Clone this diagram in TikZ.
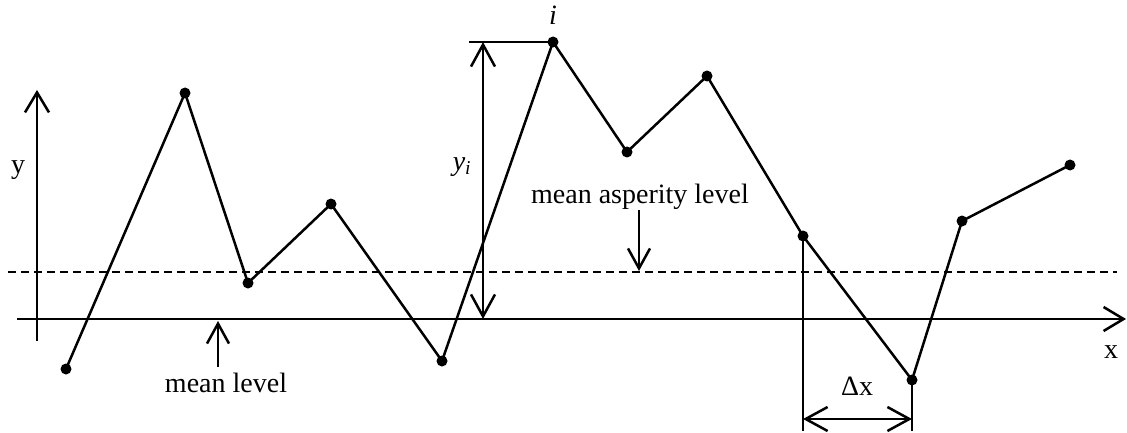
\documentclass[tikz,border=0pt]{standalone}
\usepackage{fontspec}
\setmainfont{Liberation Serif}
\usetikzlibrary{arrows.meta}
\tikzset{
  dot/.style={
    circle,
    fill=black,
    inner sep=0pt,
    minimum size=11pt
  },
  profile/.style={line width=2.5pt, line join=round},
  axis/.style={line width=2.5pt, -{Straight Barb[length=20pt,width=24pt,line width=2.5pt]}},
  dimarrow/.style={line width=2.5pt, {Straight Barb[length=22pt,width=24pt,line width=2.5pt]}-{Straight Barb[length=22pt,width=24pt,line width=2.5pt]}},
  pointer/.style={line width=2.5pt, -{Straight Barb[length=20pt,width=22pt,line width=2.5pt]}},
  meanline/.style={line width=2.5pt, dash pattern=on 8pt off 5pt},
  note/.style={font=\fontsize{28}{30}\selectfont, inner sep=0pt}
}

\begin{document}
\begin{tikzpicture}[x=1pt,y=-1pt]
\useasboundingbox (0,0) rectangle (1127,433);
% profile points
\node[dot] (p1) at (66,369) {};
\node[dot] (p2) at (185,93) {};
\node[dot] (p3) at (248,283) {};
\node[dot] (p4) at (331,204) {};
\node[dot] (p5) at (442,361) {};
\node[dot] (p6) at (553,42) {};
\node[dot] (p7) at (627,152) {};
\node[dot] (p8) at (707,76) {};
\node[dot] (p9) at (803,236) {};
\node[dot] (p10) at (912,380) {};
\node[dot] (p11) at (962,221) {};
\node[dot] (p12) at (1070,165) {};

% axes and levels
\coordinate (xstart) at (17,319);
\coordinate (xend) at (1126,319);
\coordinate (ystart) at (37,341);
\coordinate (yend) at (37,90);
\coordinate (dstart) at (8,272);
\coordinate (dend) at (1117,272);
\draw[axis] (xstart) -- (xend);
\draw[axis] (ystart) -- (yend);
\draw[meanline] (dstart) -- (dend);

\draw[profile] (p1.center) -- (p2.center) -- (p3.center) -- (p4.center) -- (p5.center) -- (p6.center)
  -- (p7.center) -- (p8.center) -- (p9.center) -- (p10.center) -- (p11.center) -- (p12.center);

% height of point i
\coordinate (ytop) at (483,42);
\coordinate (ybot) at (483,319);
\coordinate (yleft) at (469,42);
\draw[line width=2.5pt] (yleft) -- (p6.center);
\draw[dimarrow] (ytop) -- (ybot);

% sampling interval
\coordinate (dxa) at (803,431);
\coordinate (dxb) at (912,431);
\coordinate (dxl) at (803,419);
\coordinate (dxr) at (912,419);
\draw[line width=2.5pt] (p9.center) -- (dxa);
\draw[line width=2.5pt] (p10.center) -- (dxb);
\draw[dimarrow] (dxl) -- (dxr);

% labels
\node[note] (ylab) at (18,170) {y};
\node[note] (xlab) at (1111,352) {x};
\node[note] (ilab) at (553,15) {\itshape i};
\node[note] (yilab) at (462,167) {\itshape y\textsubscript{i}};
\node[note] (dxlab) at (857,386) {Δx};
\node[note] (asplab) at (640,197) {mean asperity level};
\node[note] (meanlab) at (226,383) {mean level};

\coordinate (aspend) at (639,271);
\coordinate (meanend) at (218,321);
\draw[pointer] (asplab.south -| aspend) -- (aspend);
\draw[pointer] (218,367) -- (meanend);
\end{tikzpicture}
\end{document}
